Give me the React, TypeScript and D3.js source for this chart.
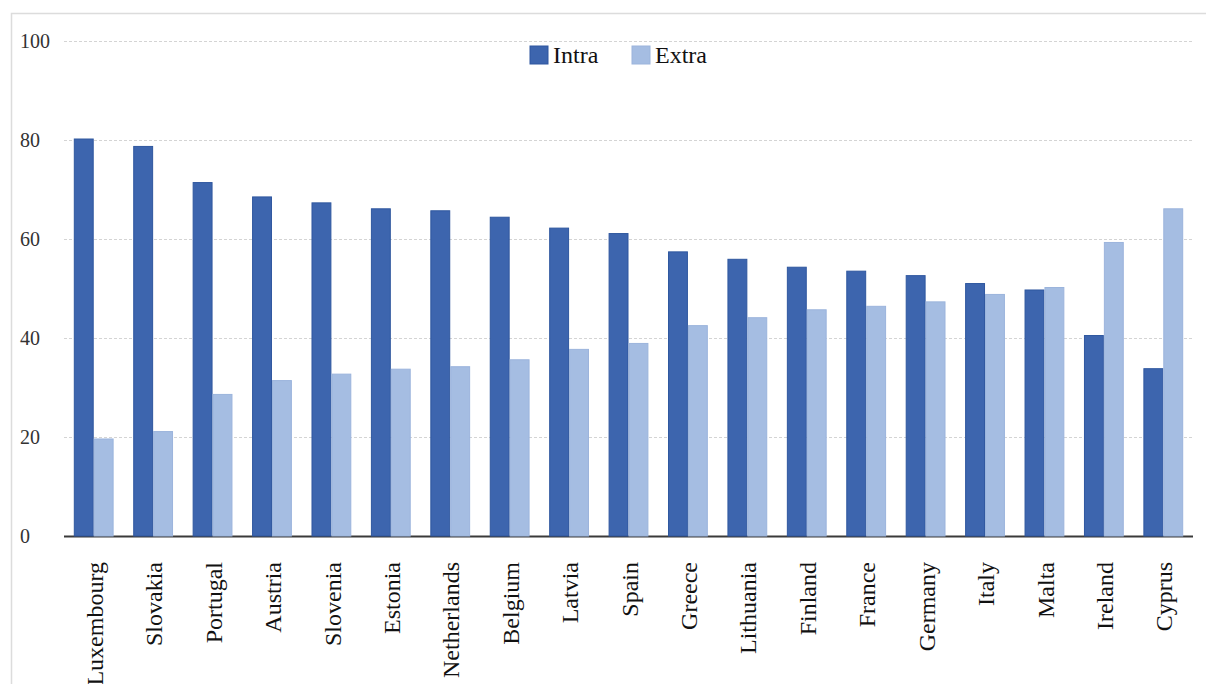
import React from "react";
import * as d3 from "d3";

// Share of trade by partner, per country (%)
const countries = [
  "Luxembourg", "Slovakia", "Portugal", "Austria", "Slovenia", "Estonia",
  "Netherlands", "Belgium", "Latvia", "Spain", "Greece", "Lithuania",
  "Finland", "France", "Germany", "Italy", "Malta", "Ireland", "Cyprus",
];
const intraValues = [
  80.2, 78.7, 71.4, 68.5, 67.3, 66.1, 65.7, 64.4, 62.2, 61.1, 57.4, 55.9,
  54.3, 53.5, 52.6, 51.0, 49.7, 40.5, 33.8,
];
const extraValues = [
  19.6, 21.1, 28.6, 31.4, 32.7, 33.7, 34.2, 35.6, 37.7, 38.9, 42.5, 44.1,
  45.7, 46.4, 47.3, 48.8, 50.2, 59.3, 66.1,
];
const seriesNames = ["Intra", "Extra"];
const yTicks = [0, 20, 40, 60, 80, 100];

const W = 1206;
const H = 684;
const FILL = ["#3d65ae", "#a5bde2"];
const EDGE = ["#2f579f", "#9bb4dc"];
const SERIF = "Liberation Serif, Times New Roman, serif";

export default function App() {
  const x = d3
    .scaleBand<string>()
    .domain(countries)
    .range([64, 1193])
    .paddingInner(0.33)
    .paddingOuter(0.165);
  const xs = d3
    .scaleBand<string>()
    .domain(seriesNames)
    .range([0, x.bandwidth()]);
  const y = d3.scaleLinear().domain([0, 100]).range([536, 41]);

  const series = [intraValues, extraValues];
  const textStyle = { fontFamily: SERIF };

  return (
    <svg
      width={W}
      height={H}
      style={{ position: "absolute", left: 0, top: 0, background: "#fff" }}
    >
      <rect x={0} y={0} width={W} height={H} fill="#fff" />
      {/* outer chart frame */}
      <rect x={11.5} y={13.5} width={1300} height={800} fill="none" stroke="#dcdcdc" strokeWidth={1.5} />

      {/* gridlines */}
      {yTicks.filter((t) => t > 0).map((t) => (
        <line
          key={t}
          x1={64}
          x2={1193}
          y1={Math.round(y(t)) + 0.5}
          y2={Math.round(y(t)) + 0.5}
          stroke="#d4d4d4"
          strokeWidth={1}
          strokeDasharray="3,2"
        />
      ))}

      {/* y tick labels */}
      {yTicks.map((t) => (
        <text key={t} x={20} y={y(t)} dy="0.35em" fontSize={20} fill="#333" style={textStyle}>
          {t}
        </text>
      ))}

      {/* baseline axis */}
      <line x1={64} x2={1193} y1={536.5} y2={536.5} stroke="#3a3a3a" strokeWidth={2} />

      {/* bars */}
      {series.map((vals, si) =>
        countries.map((c, i) => {
          const bx = (x(c) as number) + (xs(seriesNames[si]) as number);
          const top = y(vals[i]);
          return (
            <rect
              key={c + si}
              x={bx + 0.5}
              y={top}
              width={xs.bandwidth() - 1}
              height={y(0) - top}
              fill={FILL[si]}
              stroke={EDGE[si]}
              strokeWidth={1}
            />
          );
        })
      )}

      {/* category labels */}
      {countries.map((c) => {
        const cx = (x(c) as number) + x.bandwidth() / 2;
        return (
          <text
            key={c}
            transform={`translate(${cx},562) rotate(-90)`}
            textAnchor="end"
            dy="0.38em"
            fontSize={24}
            fill="#111"
            style={textStyle}
          >
            {c}
          </text>
        );
      })}

      {/* legend */}
      {seriesNames.map((s, si) => {
        const lx = [530, 632][si];
        return (
          <g key={s}>
            <rect x={lx} y={46} width={18} height={18} fill={FILL[si]} stroke={EDGE[si]} strokeWidth={1} />
            <text x={lx + 23} y={63} fontSize={24} fill="#111" style={textStyle}>
              {s}
            </text>
          </g>
        );
      })}
    </svg>
  );
}
